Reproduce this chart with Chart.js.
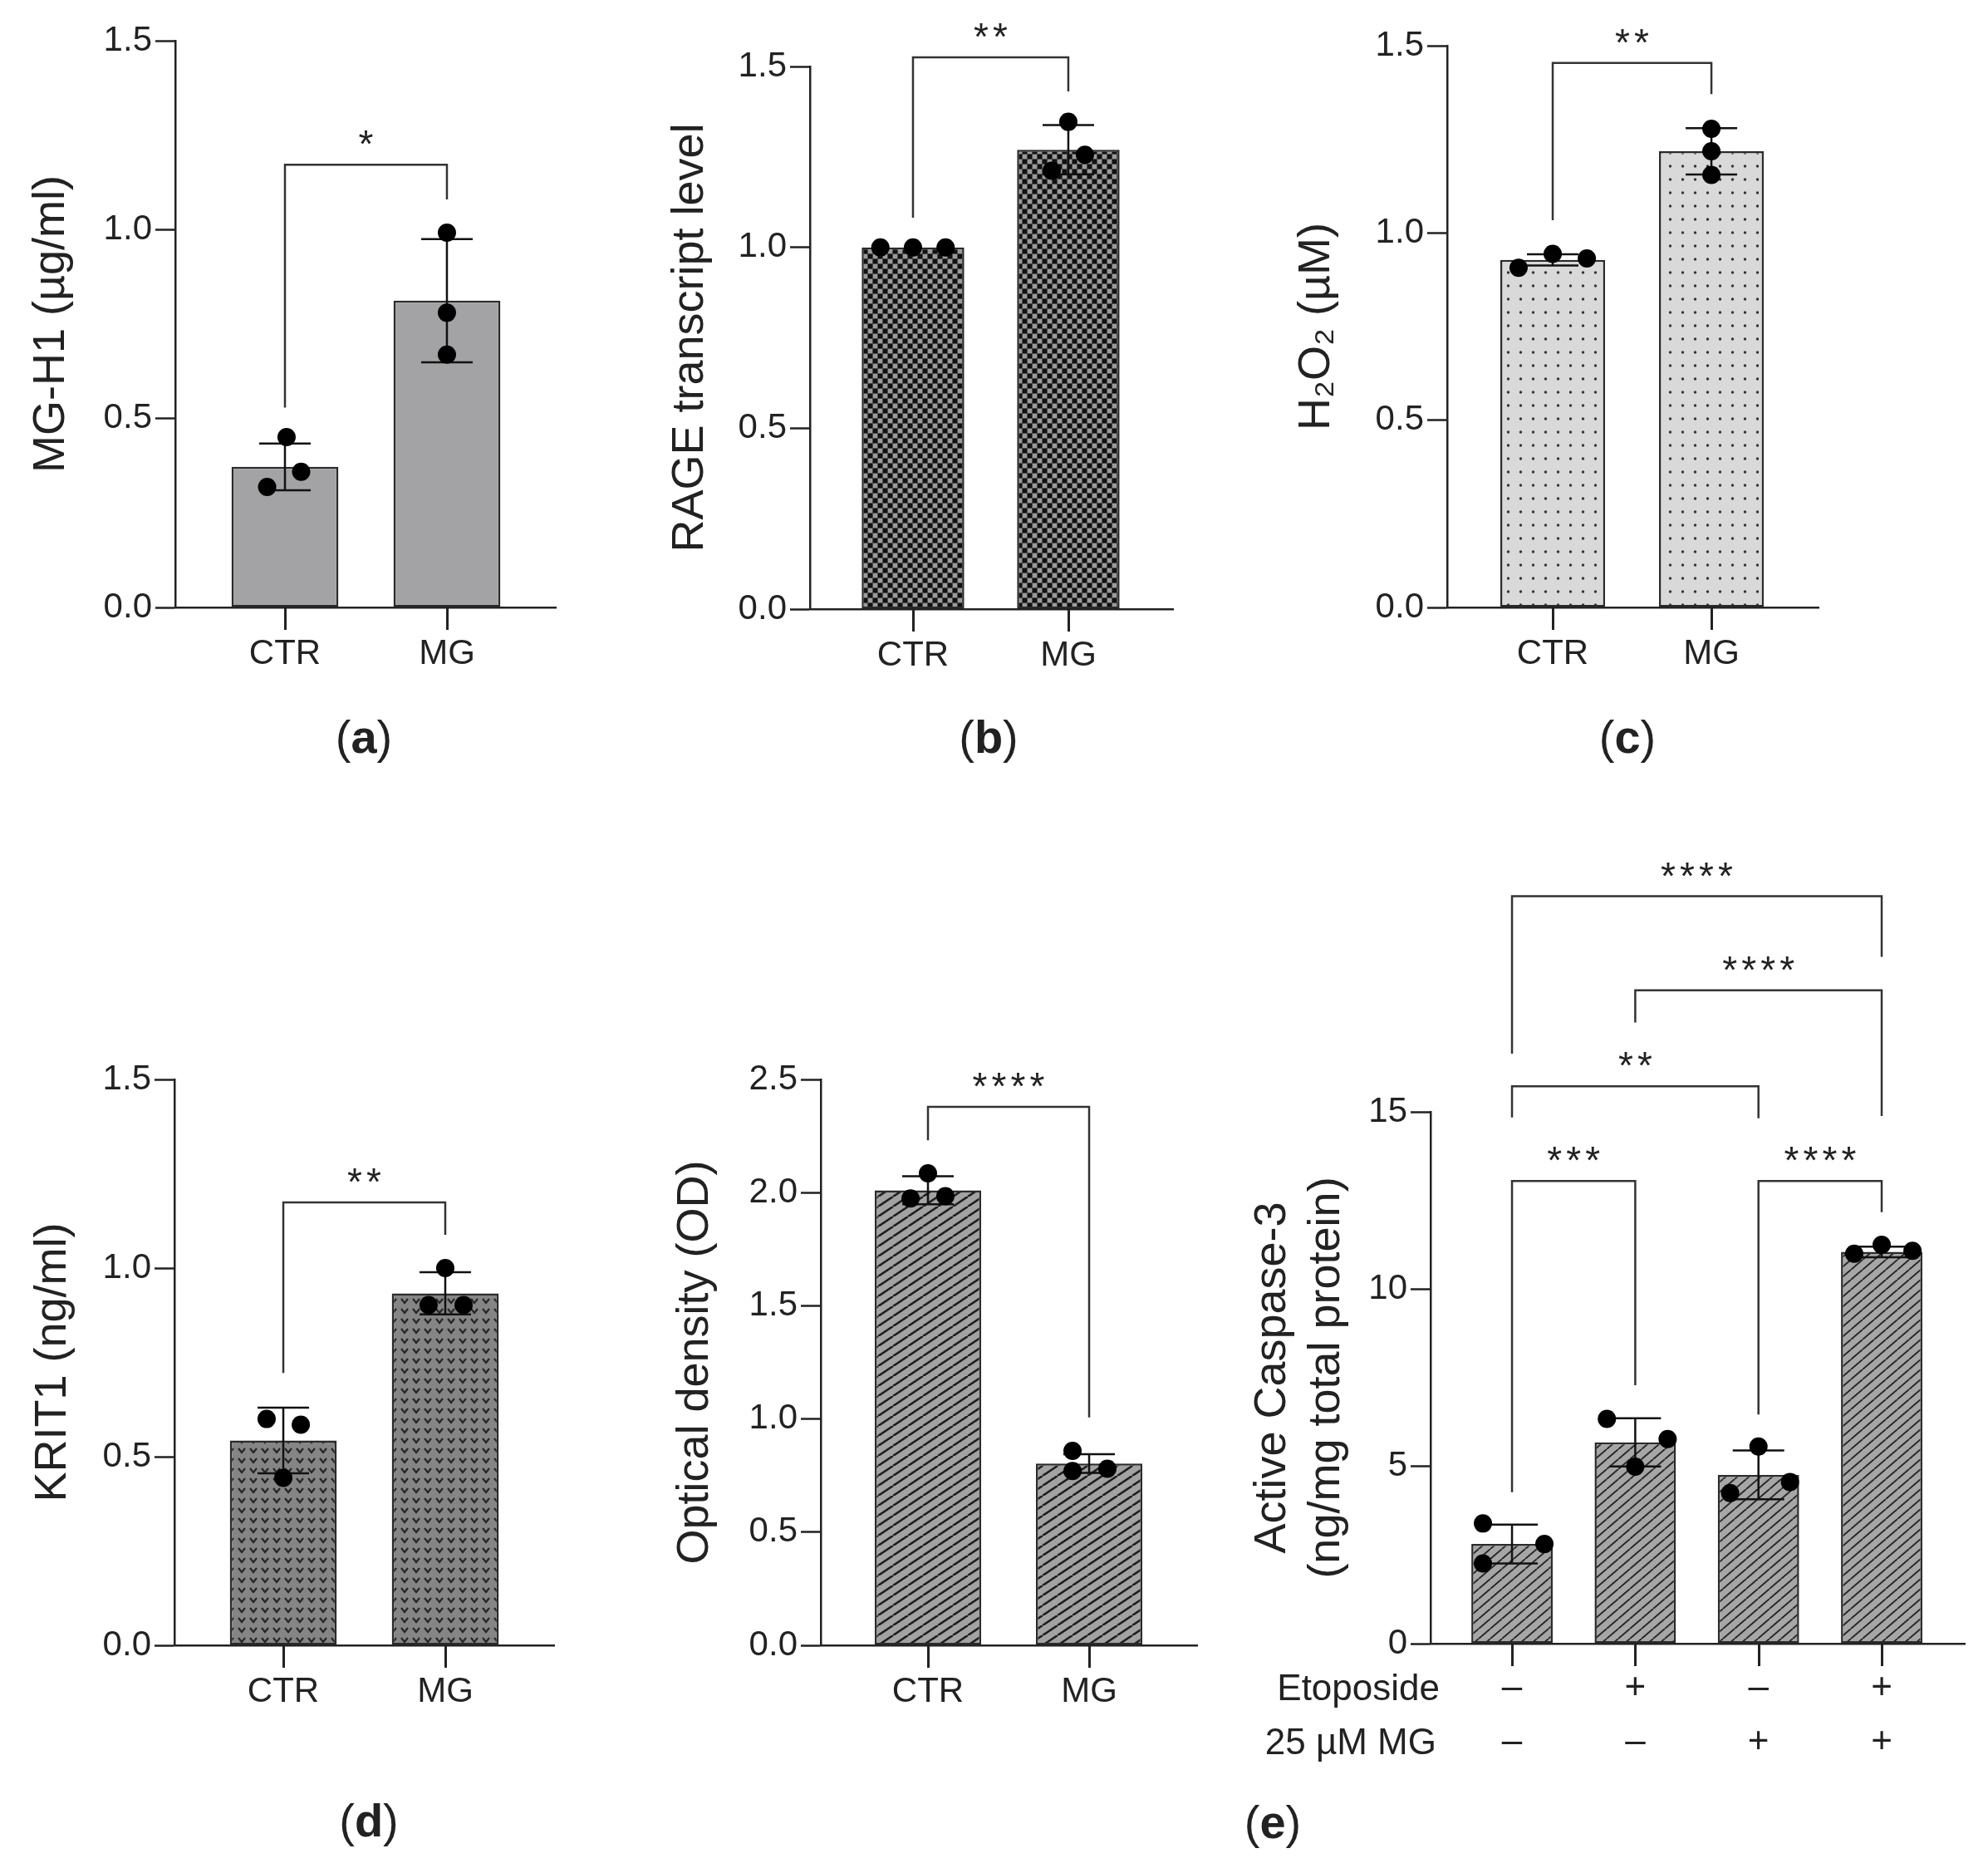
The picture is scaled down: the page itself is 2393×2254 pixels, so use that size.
<!DOCTYPE html>
<html>
<head>
<meta charset="UTF-8">
<title>MG panels</title>
<script src="https://cdn.jsdelivr.net/npm/chart.js@4"></script>
<style>
  body { margin: 0; background: #fff; width: 2393px; height: 2254px; position: relative; overflow: hidden;
         font-family: "Liberation Sans", Arial, sans-serif; color: #222; }
  canvas { position: absolute; }
  .lbl { position: absolute; transform: translate(-50%, -50%); font-size: 56px; white-space: nowrap; }
  .lbl b { font-weight: bold; }
  .row { position: absolute; transform: translate(-100%, -50%); font-size: 44px; white-space: nowrap; }
</style>
</head>
<body>
<canvas id="pa"></canvas>
<canvas id="pb"></canvas>
<canvas id="pc"></canvas>
<canvas id="pd"></canvas>
<canvas id="pe1"></canvas>
<canvas id="pe2"></canvas>

<div class="lbl" style="left:438px;top:886px">(<b>a</b>)</div>
<div class="lbl" style="left:1190px;top:886px">(<b>b</b>)</div>
<div class="lbl" style="left:1959px;top:886px">(<b>c</b>)</div>
<div class="lbl" style="left:444px;top:2190px">(<b>d</b>)</div>
<div class="lbl" style="left:1532px;top:2192px">(<b>e</b>)</div>
<div class="row" style="left:1733px;top:2031px">Etoposide</div>
<div class="row" style="left:1729px;top:2096px">25 µM MG</div>

<script>
// ---- data ----
const catsTwo = ['CTR', 'MG'];

// (a) MG-H1
const meanA = [0.372, 0.812];
const sdA = [0.062, 0.163];
const dotsA = [[0.451, 0.359, 0.319], [0.992, 0.780, 0.669]];
const sigA = [[0, 1, 1.172, 0.529, 1.080, '*']];

// (b) RAGE
const meanB = [1.0, 1.27];
const sdB = [0, 0.068];
const dotsB = [[1.0, 1.0, 1.0], [1.347, 1.256, 1.212]];
const sigB = [[0, 1, 1.525, 1.082, 1.431, '**']];

// (c) H2O2
const meanC = [0.928, 1.218];
const sdC = [0.015, 0.062];
const dotsC = [[0.907, 0.944, 0.932], [1.278, 1.218, 1.155]];
const sigC = [[0, 1, 1.454, 1.034, 1.371, '**']];

// (d) KRIT1
const meanD = [0.543, 0.933];
const sdD = [0.087, 0.056];
const dotsD = [[0.600, 0.585, 0.444], [1.0, 0.902, 0.902]];
const sigD = [[0, 1, 1.174, 0.722, 1.088, '**']];

// (e) optical density
const meanE1 = [2.01, 0.803];
const sdE1 = [0.062, 0.041];
const dotsE1 = [[2.085, 1.974, 1.984], [0.859, 0.770, 0.780]];
const sigE1 = [[0, 1, 2.379, 2.231, 1.007, '****']];

// (e) caspase-3
const etoposide = ['–', '+', '–', '+'];
const mg25 = ['–', '–', '+', '+'];
const meanE2 = [2.81, 5.68, 4.76, 11.05];
const sdE2 = [0.55, 0.68, 0.69, 0.15];
const dotsE2 = [[3.39, 2.81, 2.26], [6.34, 5.77, 4.99], [5.56, 4.56, 4.25], [11.0, 11.25, 11.08]];
const sigE2 = [
  [0, 1, 13.05, 4.27, 7.29, '***'],
  [2, 3, 13.05, 6.46, 12.17, '****'],
  [0, 2, 15.72, 14.84, 14.82, '**'],
  [1, 3, 18.43, 17.52, 14.88, '****'],
  [0, 3, 21.08, 16.64, 19.37, '****']
];

// horizontal scatter of the replicate dots (category units)
const jitA = [[0.01, 0.10, -0.11], [0, 0, 0]];
const jitB = [[-0.21, 0, 0.21], [0, 0.107, -0.107]];
const jitC = [[-0.215, 0, 0.215], [0, 0, 0]];
const jitD = [[-0.103, 0.108, 0], [0, -0.103, 0.113]];
const jitE1 = [[0, -0.108, 0.108], [-0.103, -0.103, 0.113]];
const jitE2 = [[-0.236, 0.263, -0.236], [-0.23, 0.263, 0], [0, 0.256, -0.23], [-0.223, 0, 0.25]];

const FONT = '"Liberation Sans", Arial, sans-serif';
const INK = '#222';

// ---- bar fill patterns ----
function tile(w, h, draw) {
  const c = document.createElement('canvas');
  c.width = w; c.height = h;
  draw(c.getContext('2d'));
  return document.createElement('canvas').getContext('2d').createPattern(c, 'repeat');
}
const fillSolid = '#a3a3a5';
const fillChecker = tile(12, 12, g => {
  g.fillStyle = '#4a4a4a'; g.fillRect(0, 0, 12, 12);
  g.fillStyle = '#111'; g.fillRect(0, 0, 5, 5); g.fillRect(6, 6, 5, 5);
  g.fillStyle = '#9a9a9a'; g.fillRect(6, 0, 5, 5); g.fillRect(0, 6, 5, 5);
});
const fillDots = tile(15, 16, g => {
  g.fillStyle = '#d9d9d9'; g.fillRect(0, 0, 15, 16);
  g.fillStyle = '#333'; g.beginPath(); g.arc(7.5, 8, 1.7, 0, Math.PI * 2); g.fill();
});
const fillChevron = tile(14, 12, g => {
  g.fillStyle = '#858585'; g.fillRect(0, 0, 14, 12);
  g.strokeStyle = '#262626'; g.lineWidth = 2.2;
  g.beginPath(); g.moveTo(3, 3); g.lineTo(7, 8); g.lineTo(11, 3); g.stroke();
});
const fillHatch = tile(18, 12, g => {
  g.fillStyle = '#a2a2a2'; g.fillRect(0, 0, 18, 12);
  g.strokeStyle = '#1e1e1e'; g.lineWidth = 2.6;
  g.beginPath();
  g.moveTo(-18, 12); g.lineTo(0, 0);
  g.moveTo(0, 12); g.lineTo(18, 0);
  g.moveTo(18, 12); g.lineTo(36, 0);
  g.stroke();
});
const fillHatchFine = tile(14, 12, g => {
  g.fillStyle = '#a6a6a6'; g.fillRect(0, 0, 14, 12);
  g.strokeStyle = '#262626'; g.lineWidth = 1.9;
  g.beginPath();
  g.moveTo(-14, 12); g.lineTo(0, 0);
  g.moveTo(0, 12); g.lineTo(14, 0);
  g.moveTo(14, 12); g.lineTo(28, 0);
  g.stroke();
});

// ---- helpers ----
function errPlugin(means, sd) {
  return {
    id: 'errbars',
    afterDatasetDraw(chart, args) {
      if (args.index !== 0) return;
      const ctx = chart.ctx, x = chart.scales.x, y = chart.scales.y;
      ctx.save();
      ctx.strokeStyle = '#111';
      ctx.lineWidth = 2.5;
      means.forEach((m, i) => {
        if (!sd[i]) return;
        const px = x.getPixelForValue(i);
        const hi = y.getPixelForValue(m + sd[i]);
        const lo = y.getPixelForValue(m - sd[i]);
        ctx.beginPath();
        ctx.moveTo(px, hi); ctx.lineTo(px, lo);
        ctx.moveTo(px - 31, hi); ctx.lineTo(px + 31, hi);
        ctx.moveTo(px - 31, lo); ctx.lineTo(px + 31, lo);
        ctx.stroke();
      });
      ctx.restore();
    }
  };
}

// significance brackets + the category tick marks under the x axis
function sigPlugin(sig, count) {
  return {
    id: 'sig',
    afterDraw(chart) {
      const ctx = chart.ctx, x = chart.scales.x, y = chart.scales.y;
      ctx.save();
      const base = Math.round(chart.chartArea.bottom);
      ctx.fillStyle = INK;
      for (let i = 0; i < count; i++) {
        const px = Math.round(x.getPixelForValue(i));
        ctx.fillRect(px - 1, base, 3, 27);
      }
      ctx.strokeStyle = '#333';
      ctx.lineWidth = 2.5;
      ctx.font = '46px ' + FONT;
      ctx.textAlign = 'center';
      ctx.textBaseline = 'alphabetic';
      sig.forEach(([a, b, level, legA, legB, stars]) => {
        const x1 = x.getPixelForValue(a), x2 = x.getPixelForValue(b);
        const yb = y.getPixelForValue(level);
        ctx.beginPath();
        ctx.moveTo(x1, y.getPixelForValue(legA));
        ctx.lineTo(x1, yb);
        ctx.lineTo(x2, yb);
        ctx.lineTo(x2, y.getPixelForValue(legB));
        ctx.stroke();
        const xm = (x1 + x2) / 2, n = stars.length;
        for (let k = 0; k < n; k++) {
          ctx.fillText('*', xm + (k - (n - 1) / 2) * 23, yb - 9);
        }
      });
      ctx.restore();
    }
  };
}

function makePanel(id, g, o) {
  const cv = document.getElementById(id);
  cv.width = g.w; cv.height = g.h;
  cv.style.left = g.left + 'px';
  cv.style.top = g.top + 'px';
  const n = o.means.length;
  const pts = [];
  o.dots.forEach((arr, i) => arr.forEach((v, k) => pts.push({ x: i + o.jit[i][k], y: v })));
  new Chart(cv, {
    type: 'bar',
    data: {
      datasets: [
        {
          type: 'bar',
          data: o.means.map((m, i) => ({ x: i, y: m })),
          backgroundColor: o.fill,
          borderColor: '#2a2a2a',
          borderWidth: 2.5,
          borderSkipped: false,
          barPercentage: 0.66,
          categoryPercentage: 1,
          order: 1
        },
        {
          type: 'scatter',
          data: pts,
          pointRadius: 11,
          pointBackgroundColor: '#000',
          pointBorderWidth: 0,
          order: 0
        }
      ]
    },
    options: {
      responsive: false,
      animation: false,
      devicePixelRatio: 1,
      layout: { padding: { top: g.yTop - g.top, right: g.left + g.w - g.xEnd, left: 0, bottom: 0 } },
      plugins: { legend: { display: false }, tooltip: { enabled: false } },
      scales: {
        x: {
          type: 'linear',
          min: -(g.gapL), max: n - 1 + g.gapR,
          offset: false,
          afterBuildTicks(s) { s.ticks = o.labels.map((_, i) => ({ value: i })); },
          afterFit(s) { s.height = g.h - (g.yBot - g.top); },
          ticks: {
            callback: (v) => o.labels[v],
            font: { family: FONT, size: o.xFont || 42, lineHeight: o.xLine || 1.2 },
            color: INK, padding: o.xPad !== undefined ? o.xPad : 3,
            maxRotation: 0, autoSkip: false
          },
          grid: { drawOnChartArea: false, drawTicks: true, tickLength: 28, tickColor: 'rgba(0,0,0,0)' },
          border: { color: INK, width: 2.5 }
        },
        y: {
          min: 0, max: o.yMax,
          afterFit(s) { s.width = g.axisX - g.left; },
          ticks: {
            stepSize: o.step,
            callback: o.fmt,
            font: { family: FONT, size: 42 },
            color: INK, padding: 4
          },
          grid: { drawOnChartArea: false, drawTicks: true, tickLength: 24, tickWidth: 2.5, tickColor: INK },
          border: { color: INK, width: 2.5 },
          title: {
            display: true, text: o.title, color: INK, padding: 0,
            font: { family: FONT, size: 54, lineHeight: 1.2 }
          }
        }
      }
    },
    plugins: [errPlugin(o.means, o.sd), sigPlugin(o.sig, n)]
  });
}

const fmt1 = v => v.toFixed(1);
const fmt0 = v => String(v);

makePanel('pa', { left: 30, top: 0, w: 669, h: 831, axisX: 211, yTop: 49, yBot: 731, xEnd: 669, gapL: 0.677, gapR: 0.672 },
  { labels: catsTwo, means: meanA, sd: sdA, dots: dotsA, jit: jitA, sig: sigA, fill: fillSolid,
    yMax: 1.5, step: 0.5, fmt: fmt1, title: 'MG-H1 (µg/ml)' });

makePanel('pb', { left: 799, top: 0, w: 643, h: 833, axisX: 975, yTop: 80, yBot: 733, xEnd: 1412, gapL: 0.663, gapR: 0.674 },
  { labels: catsTwo, means: meanB, sd: sdB, dots: dotsB, jit: jitB, sig: sigB, fill: fillChecker,
    yMax: 1.5, step: 0.5, fmt: fmt1, title: 'RAGE transcript level' });

makePanel('pc', { left: 1553, top: 0, w: 666, h: 831, axisX: 1742, yTop: 55, yBot: 731, xEnd: 2189, gapL: 0.665, gapR: 0.675 },
  { labels: catsTwo, means: meanC, sd: sdC, dots: dotsC, jit: jitC, sig: sigC, fill: fillDots,
    yMax: 1.5, step: 0.5, fmt: fmt1, title: 'H₂O₂ (µM)' });

makePanel('pd', { left: 32, top: 1200, w: 665, h: 880, axisX: 210, yTop: 1299, yBot: 1980, xEnd: 667, gapL: 0.672, gapR: 0.672 },
  { labels: catsTwo, means: meanD, sd: sdD, dots: dotsD, jit: jitD, sig: sigD, fill: fillChevron,
    yMax: 1.5, step: 0.5, fmt: fmt1, title: 'KRIT1 (ng/ml)' });

makePanel('pe1', { left: 805, top: 1200, w: 666, h: 880, axisX: 988, yTop: 1299, yBot: 1980, xEnd: 1441, gapL: 0.665, gapR: 0.67 },
  { labels: catsTwo, means: meanE1, sd: sdE1, dots: dotsE1, jit: jitE1, sig: sigE1, fill: fillHatch,
    yMax: 2.5, step: 0.5, fmt: fmt1, title: 'Optical density (OD)' });

makePanel('pe2', { left: 1500, top: 1000, w: 890, h: 1138, axisX: 1722, yTop: 1338, yBot: 1978, xEnd: 2365, gapL: 0.661, gapR: 0.674 },
  { labels: etoposide.map((e, i) => [e, mg25[i]]), means: meanE2, sd: sdE2, dots: dotsE2, jit: jitE2, sig: sigE2, fill: fillHatchFine,
    yMax: 15, step: 5, fmt: fmt0, title: ['Active Caspase-3', '(ng/mg total protein)'],
    xFont: 44, xLine: 1.48, xPad: -7 });
</script>
</body>
</html>
